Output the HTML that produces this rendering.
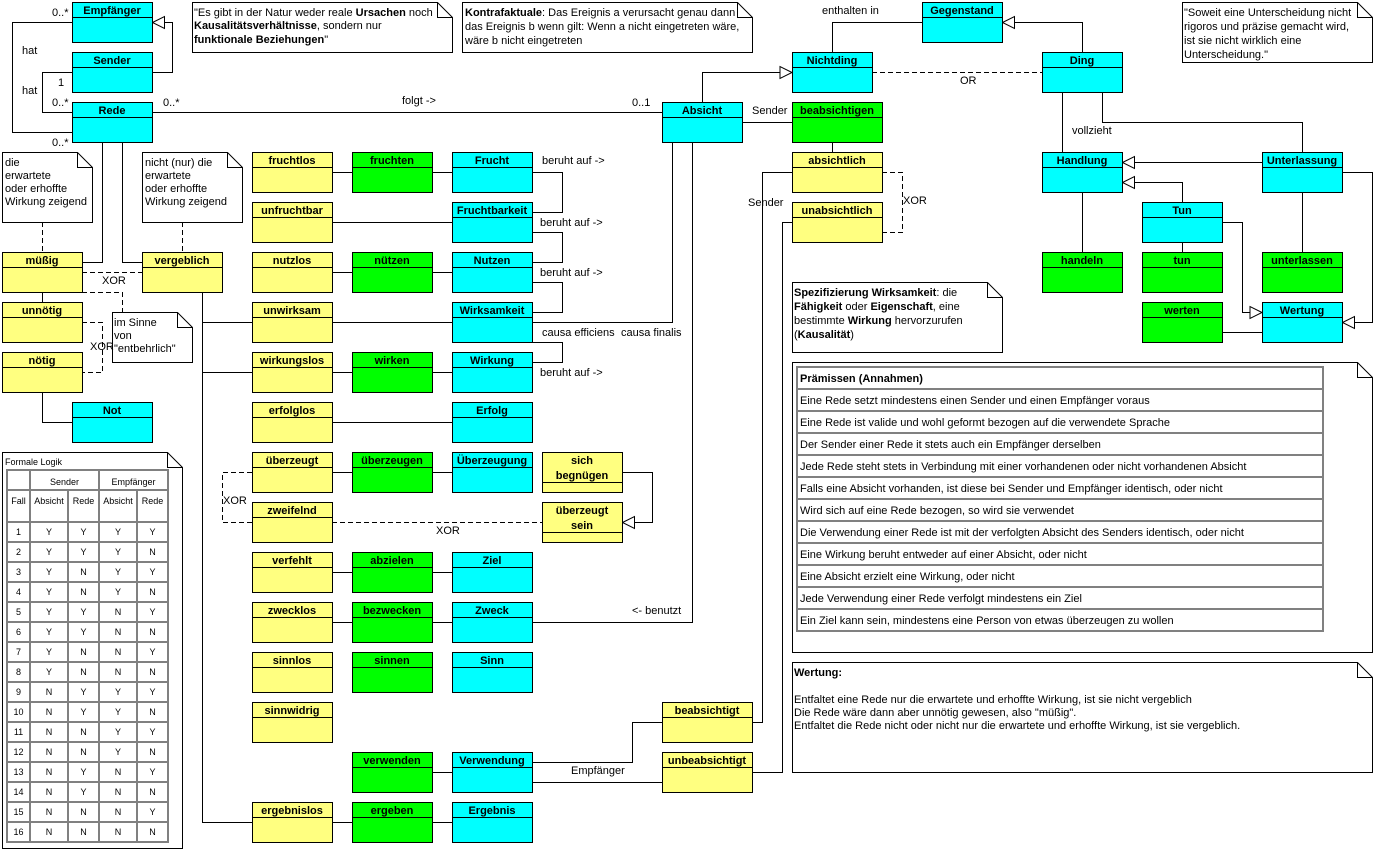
<!DOCTYPE html>
<html><head><meta charset="utf-8">
<style>
html,body{margin:0;padding:0;background:#fff;}
svg{display:block;}
text{font-family:"Liberation Sans",Arial,sans-serif;font-size:11px;fill:#000;}
.bx text{text-anchor:middle;font-weight:bold;}
.bx rect{stroke:#000;stroke-width:1;}
.bx path{stroke:#000;fill:none;}
.c{fill:#00FFFF}.g{fill:#00FF00}.y{fill:#FFFF80}
.ln{fill:none;stroke:#000;stroke-width:1;}
.ds{fill:none;stroke:#000;stroke-width:1;stroke-dasharray:5,3;}
.tri{fill:#fff;stroke:#000;stroke-width:1;}
.note{fill:#fff;stroke:#000;stroke-width:1;}
.gt{fill:none;stroke:#808080;stroke-width:2;}
.sm{font-size:9px;}
.mid{text-anchor:middle;}
.w10{font-size:11px;}
</style></head><body>
<svg width="1376" height="856" viewBox="0 0 1376 856" xmlns="http://www.w3.org/2000/svg">
<rect x="0" y="0" width="1376" height="856" fill="#fff"/>

<!-- Notes -->
<g>
<path class="note" d="M2.5 152.5H77.5L92.5 167.5V222.5H2.5Z"/><path class="ln" d="M77.5 152.5V167.5H92.5"/>
<text x="5" y="166">die</text><text x="5" y="179">erwartete</text><text x="5" y="192">oder erhoffte</text><text x="5" y="205">Wirkung zeigend</text>

<path class="note" d="M142.5 152.5H227.5L242.5 167.5V222.5H142.5Z"/><path class="ln" d="M227.5 152.5V167.5H242.5"/>
<text x="145" y="166">nicht (nur) die</text><text x="145" y="179">erwartete</text><text x="145" y="192">oder erhoffte</text><text x="145" y="205">Wirkung zeigend</text>

<path class="note" d="M112.5 312.5H177.5L192.5 327.5V362.5H112.5Z"/><path class="ln" d="M177.5 312.5V327.5H192.5"/>
<text x="114" y="326">im Sinne</text><text x="114" y="339">von</text><text x="114" y="352">"entbehrlich"</text>

<path class="note" d="M192.5 2.5H437.5L452.5 17.5V52.5H192.5Z"/><path class="ln" d="M437.5 2.5V17.5H452.5"/>
<text x="194" y="16">"Es gibt in der Natur weder reale <tspan font-weight="bold">Ursachen</tspan> noch</text>
<text x="194" y="29"><tspan font-weight="bold">Kausalitätsverhältnisse</tspan>, sondern nur</text>
<text x="194" y="43"><tspan font-weight="bold">funktionale Beziehungen</tspan>"</text>

<path class="note" d="M462.5 2.5H737.5L752.5 17.5V52.5H462.5Z"/><path class="ln" d="M737.5 2.5V17.5H752.5"/>
<text x="465" y="16"><tspan font-weight="bold">Kontrafaktuale</tspan>: Das Ereignis a verursacht genau dann</text>
<text x="465" y="30">das Ereignis b wenn gilt: Wenn a nicht eingetreten wäre,</text>
<text x="465" y="44">wäre b nicht eingetreten</text>

<path class="note" d="M1182.5 2.5H1357.5L1372.5 17.5V62.5H1182.5Z"/><path class="ln" d="M1357.5 2.5V17.5H1372.5"/>
<text x="1184" y="16">"Soweit eine Unterscheidung nicht</text>
<text x="1184" y="30">rigoros und präzise gemacht wird,</text>
<text x="1184" y="44">ist sie nicht wirklich eine</text>
<text x="1184" y="58">Unterscheidung."</text>

<path class="note" d="M792.5 282.5H987.5L1002.5 297.5V352.5H792.5Z"/><path class="ln" d="M987.5 282.5V297.5H1002.5"/>
<text x="794" y="296"><tspan font-weight="bold">Spezifizierung Wirksamkeit</tspan>: die</text>
<text x="794" y="310"><tspan font-weight="bold">Fähigkeit</tspan> oder <tspan font-weight="bold">Eigenschaft</tspan>, eine</text>
<text x="794" y="324">bestimmte <tspan font-weight="bold">Wirkung</tspan> hervorzurufen</text>
<text x="794" y="338">(<tspan font-weight="bold">Kausalität</tspan>)</text>

<path class="note" d="M792.5 362.5H1357.5L1372.5 377.5V652.5H792.5Z"/><path class="ln" d="M1357.5 362.5V377.5H1372.5"/>
<rect class="gt" x="797" y="367" width="526" height="264"/>
<path class="gt" d="M797 389H1323M797 411H1323M797 433H1323M797 455H1323M797 477H1323M797 499H1323M797 521H1323M797 543H1323M797 565H1323M797 587H1323M797 609H1323"/>
<text x="800" y="382" font-weight="bold">Prämissen (Annahmen)</text>
<text x="800" y="404">Eine Rede setzt mindestens einen Sender und einen Empfänger voraus</text>
<text x="800" y="426">Eine Rede ist valide und wohl geformt bezogen auf die verwendete Sprache</text>
<text x="800" y="448">Der Sender einer Rede it stets auch ein Empfänger derselben</text>
<text x="800" y="470">Jede Rede steht stets in Verbindung mit einer vorhandenen oder nicht vorhandenen Absicht</text>
<text x="800" y="492">Falls eine Absicht vorhanden, ist diese bei Sender und Empfänger identisch, oder nicht</text>
<text x="800" y="514">Wird sich auf eine Rede bezogen, so wird sie verwendet</text>
<text x="800" y="536">Die Verwendung einer Rede ist mit der verfolgten Absicht des Senders identisch, oder nicht</text>
<text x="800" y="558">Eine Wirkung beruht entweder auf einer Absicht, oder nicht</text>
<text x="800" y="580">Eine Absicht erzielt eine Wirkung, oder nicht</text>
<text x="800" y="602">Jede Verwendung einer Rede verfolgt mindestens ein Ziel</text>
<text x="800" y="624">Ein Ziel kann sein, mindestens eine Person von etwas überzeugen zu wollen</text>

<path class="note" d="M792.5 662.5H1357.5L1372.5 677.5V772.5H792.5Z"/><path class="ln" d="M1357.5 662.5V677.5H1372.5"/>
<text x="794" y="676" font-weight="bold">Wertung:</text>
<text class="w10" x="794" y="703">Entfaltet eine Rede nur die erwartete und erhoffte Wirkung, ist sie nicht vergeblich</text>
<text class="w10" x="794" y="716">Die Rede wäre dann aber unnötig gewesen, also "müßig".</text>
<text class="w10" x="794" y="729">Entfaltet die Rede nicht oder nicht nur die erwartete und erhoffte Wirkung, ist sie vergeblich.</text>

<path class="note" d="M2.5 452.5H167.5L182.5 467.5V848.5H2.5Z"/><path class="ln" d="M167.5 452.5V467.5H182.5"/>
<text class="sm" x="5" y="465">Formale Logik</text>
<rect class="gt" x="7" y="470" width="161" height="372"/>
<path class="gt" d="M7 490H168M7 522H168M7 542H168M7 562H168M7 582H168M7 602H168M7 622H168M7 642H168M7 662H168M7 682H168M7 702H168M7 722H168M7 742H168M7 762H168M7 782H168M7 802H168M7 822H168M30 470V842M99 470V842M68 490V842M137 490V842"/>
<g class="sm mid">
<text class="sm mid" x="64.5" y="485">Sender</text><text class="sm mid" x="133.5" y="485">Empfänger</text>
<text class="sm mid" x="18.5" y="504">Fall</text><text class="sm mid" x="49" y="504">Absicht</text><text class="sm mid" x="83.5" y="504">Rede</text><text class="sm mid" x="118" y="504">Absicht</text><text class="sm mid" x="152.5" y="504">Rede</text>
</g>
<g>
<text class="sm mid" x="18.5" y="535">1</text><text class="sm mid" x="49" y="535">Y</text><text class="sm mid" x="83.5" y="535">Y</text><text class="sm mid" x="118" y="535">Y</text><text class="sm mid" x="152.5" y="535">Y</text>
<text class="sm mid" x="18.5" y="555">2</text><text class="sm mid" x="49" y="555">Y</text><text class="sm mid" x="83.5" y="555">Y</text><text class="sm mid" x="118" y="555">Y</text><text class="sm mid" x="152.5" y="555">N</text>
<text class="sm mid" x="18.5" y="575">3</text><text class="sm mid" x="49" y="575">Y</text><text class="sm mid" x="83.5" y="575">N</text><text class="sm mid" x="118" y="575">Y</text><text class="sm mid" x="152.5" y="575">Y</text>
<text class="sm mid" x="18.5" y="595">4</text><text class="sm mid" x="49" y="595">Y</text><text class="sm mid" x="83.5" y="595">N</text><text class="sm mid" x="118" y="595">Y</text><text class="sm mid" x="152.5" y="595">N</text>
<text class="sm mid" x="18.5" y="615">5</text><text class="sm mid" x="49" y="615">Y</text><text class="sm mid" x="83.5" y="615">Y</text><text class="sm mid" x="118" y="615">N</text><text class="sm mid" x="152.5" y="615">Y</text>
<text class="sm mid" x="18.5" y="635">6</text><text class="sm mid" x="49" y="635">Y</text><text class="sm mid" x="83.5" y="635">Y</text><text class="sm mid" x="118" y="635">N</text><text class="sm mid" x="152.5" y="635">N</text>
<text class="sm mid" x="18.5" y="655">7</text><text class="sm mid" x="49" y="655">Y</text><text class="sm mid" x="83.5" y="655">N</text><text class="sm mid" x="118" y="655">N</text><text class="sm mid" x="152.5" y="655">Y</text>
<text class="sm mid" x="18.5" y="675">8</text><text class="sm mid" x="49" y="675">Y</text><text class="sm mid" x="83.5" y="675">N</text><text class="sm mid" x="118" y="675">N</text><text class="sm mid" x="152.5" y="675">N</text>
<text class="sm mid" x="18.5" y="695">9</text><text class="sm mid" x="49" y="695">N</text><text class="sm mid" x="83.5" y="695">Y</text><text class="sm mid" x="118" y="695">Y</text><text class="sm mid" x="152.5" y="695">Y</text>
<text class="sm mid" x="18.5" y="715">10</text><text class="sm mid" x="49" y="715">N</text><text class="sm mid" x="83.5" y="715">Y</text><text class="sm mid" x="118" y="715">Y</text><text class="sm mid" x="152.5" y="715">N</text>
<text class="sm mid" x="18.5" y="735">11</text><text class="sm mid" x="49" y="735">N</text><text class="sm mid" x="83.5" y="735">N</text><text class="sm mid" x="118" y="735">Y</text><text class="sm mid" x="152.5" y="735">Y</text>
<text class="sm mid" x="18.5" y="755">12</text><text class="sm mid" x="49" y="755">N</text><text class="sm mid" x="83.5" y="755">N</text><text class="sm mid" x="118" y="755">Y</text><text class="sm mid" x="152.5" y="755">N</text>
<text class="sm mid" x="18.5" y="775">13</text><text class="sm mid" x="49" y="775">N</text><text class="sm mid" x="83.5" y="775">Y</text><text class="sm mid" x="118" y="775">N</text><text class="sm mid" x="152.5" y="775">Y</text>
<text class="sm mid" x="18.5" y="795">14</text><text class="sm mid" x="49" y="795">N</text><text class="sm mid" x="83.5" y="795">Y</text><text class="sm mid" x="118" y="795">N</text><text class="sm mid" x="152.5" y="795">N</text>
<text class="sm mid" x="18.5" y="815">15</text><text class="sm mid" x="49" y="815">N</text><text class="sm mid" x="83.5" y="815">N</text><text class="sm mid" x="118" y="815">N</text><text class="sm mid" x="152.5" y="815">Y</text>
<text class="sm mid" x="18.5" y="835">16</text><text class="sm mid" x="49" y="835">N</text><text class="sm mid" x="83.5" y="835">N</text><text class="sm mid" x="118" y="835">N</text><text class="sm mid" x="152.5" y="835">N</text>
</g>
</g>

<!-- Solid connectors -->
<path class="ln" d="M72 22.5H12.5V132.5H72"/>
<path class="ln" d="M72 72.5H42.5V112.5H72"/>
<path class="ln" d="M152 72.5H172.5V22.5H164"/>
<path class="ln" d="M152 112.5H662"/>
<path class="ln" d="M102.5 142V262.5H82"/>
<path class="ln" d="M122.5 142V262.5H142"/>
<path class="ln" d="M42.5 292V302"/>
<path class="ln" d="M42.5 392V422.5H72"/>
<path class="ln" d="M202.5 292V822.5H252M202.5 322.5H252M202.5 372.5H252"/>
<path class="ln" d="M332 172.5H352M432 172.5H452M332 222.5H452M332 272.5H352M432 272.5H452M332 322.5H452M332 372.5H352M432 372.5H452M332 422.5H452M332 472.5H352M432 472.5H452M332 572.5H352M432 572.5H452M332 622.5H352M432 622.5H452M432 772.5H452M332 822.5H352M432 822.5H452"/>
<path class="ln" d="M532 172.5H562.5V212.5H532M532 232.5H562.5V262.5H532M532 282.5H562.5V312.5H532M532 342.5H562.5V362.5H532"/>
<path class="ln" d="M532 322.5H672.5V142"/>
<path class="ln" d="M692.5 142V622.5H532"/>
<path class="ln" d="M702.5 102V72.5H780"/>
<path class="ln" d="M742 122.5H792"/>
<path class="ln" d="M832.5 142V152"/>
<path class="ln" d="M792 172.5H762.5V722.5H752"/>
<path class="ln" d="M792 222.5H782.5V772.5H752"/>
<path class="ln" d="M532 762.5H632.5V722.5H662"/>
<path class="ln" d="M532 782.5H662"/>
<path class="ln" d="M832.5 52V22.5H922"/>
<path class="ln" d="M1082.5 52V22.5H1014"/>
<path class="ln" d="M1062.5 92V152"/>
<path class="ln" d="M1102.5 92V122.5H1302.5V152"/>
<path class="ln" d="M1262 162.5H1134"/>
<path class="ln" d="M1182.5 202V182.5H1134"/>
<path class="ln" d="M1082.5 192V252"/>
<path class="ln" d="M1182.5 242V252"/>
<path class="ln" d="M1302.5 192V252"/>
<path class="ln" d="M1222 222.5H1242.5V312.5H1250"/>
<path class="ln" d="M1342 172.5H1372.5V322.5H1354"/>
<path class="ln" d="M1222 332.5H1262"/>
<path class="ln" d="M622 472.5H652.5V522.5H634"/>

<!-- triangles -->
<path class="tri" d="M152.5 22.5L164.5 16.5L164.5 28.5Z"/>
<path class="tri" d="M792 72.5L780 66.5L780 78.5Z"/>
<path class="tri" d="M1002.5 22.5L1014.5 16.5L1014.5 28.5Z"/>
<path class="tri" d="M1122.5 162.5L1134.5 156.5L1134.5 168.5Z"/>
<path class="tri" d="M1122.5 182.5L1134.5 176.5L1134.5 188.5Z"/>
<path class="tri" d="M1262 312.5L1250 306.5L1250 318.5Z"/>
<path class="tri" d="M1342.5 322.5L1354.5 316.5L1354.5 328.5Z"/>
<path class="tri" d="M622.5 522.5L634.5 516.5L634.5 528.5Z"/>

<!-- dashed -->
<path class="ds" d="M42.5 222V252"/>
<path class="ds" d="M182.5 222V252"/>
<path class="ds" d="M82 272.5H142"/>
<path class="ds" d="M82 292.5H122.5V312"/>
<path class="ds" d="M82 322.5H102.5V372.5H82"/>
<path class="ds" d="M252 472.5H222.5V522.5H252"/>
<path class="ds" d="M332 522.5H542"/>
<path class="ds" d="M882 172.5H902.5V232.5H882"/>
<path class="ds" d="M872 72.5H1042"/>

<!-- labels -->
<text x="52" y="16">0..*</text>
<text x="22" y="54">hat</text>
<text x="58" y="86">1</text>
<text x="22" y="94">hat</text>
<text x="52" y="106">0..*</text>
<text x="52" y="146">0..*</text>
<text x="163" y="106">0..*</text>
<text x="402" y="104">folgt -&gt;</text>
<text x="632" y="106">0..1</text>
<text x="752" y="114">Sender</text>
<text x="822" y="14">enthalten in</text>
<text x="542" y="164">beruht auf -&gt;</text>
<text x="540" y="226">beruht auf -&gt;</text>
<text x="540" y="276">beruht auf -&gt;</text>
<text x="540" y="376">beruht auf -&gt;</text>
<text x="542" y="336">causa efficiens</text>
<text x="621" y="336">causa finalis</text>
<text x="748" y="206">Sender</text>
<text x="903" y="204">XOR</text>
<text x="960" y="84">OR</text>
<text x="1072" y="134">vollzieht</text>
<text x="102" y="284">XOR</text>
<text x="90" y="350">XOR</text>
<text x="223" y="504">XOR</text>
<text x="436" y="534">XOR</text>
<text x="632" y="614">&lt;- benutzt</text>
<text x="571" y="774">Empfänger</text>

<!-- class boxes -->
<g class="bx">
<g transform="translate(72,2)"><rect x=".5" y=".5" width="80" height="40" class="c"/><path d="M0 15.5H80"/><text x="40" y="12">Empfänger</text></g>
<g transform="translate(72,52)"><rect x=".5" y=".5" width="80" height="40" class="c"/><path d="M0 15.5H80"/><text x="40" y="12">Sender</text></g>
<g transform="translate(72,102)"><rect x=".5" y=".5" width="80" height="40" class="c"/><path d="M0 15.5H80"/><text x="40" y="12">Rede</text></g>
<g transform="translate(2,252)"><rect x=".5" y=".5" width="80" height="40" class="y"/><path d="M0 15.5H80"/><text x="40" y="12">müßig</text></g>
<g transform="translate(2,302)"><rect x=".5" y=".5" width="80" height="40" class="y"/><path d="M0 15.5H80"/><text x="40" y="12">unnötig</text></g>
<g transform="translate(2,352)"><rect x=".5" y=".5" width="80" height="40" class="y"/><path d="M0 15.5H80"/><text x="40" y="12">nötig</text></g>
<g transform="translate(72,402)"><rect x=".5" y=".5" width="80" height="40" class="c"/><path d="M0 15.5H80"/><text x="40" y="12">Not</text></g>
<g transform="translate(142,252)"><rect x=".5" y=".5" width="80" height="40" class="y"/><path d="M0 15.5H80"/><text x="40" y="12">vergeblich</text></g>

<g transform="translate(252,152)"><rect x=".5" y=".5" width="80" height="40" class="y"/><path d="M0 15.5H80"/><text x="40" y="12">fruchtlos</text></g>
<g transform="translate(352,152)"><rect x=".5" y=".5" width="80" height="40" class="g"/><path d="M0 15.5H80"/><text x="40" y="12">fruchten</text></g>
<g transform="translate(452,152)"><rect x=".5" y=".5" width="80" height="40" class="c"/><path d="M0 15.5H80"/><text x="40" y="12">Frucht</text></g>

<g transform="translate(252,202)"><rect x=".5" y=".5" width="80" height="40" class="y"/><path d="M0 15.5H80"/><text x="40" y="12">unfruchtbar</text></g>
<g transform="translate(452,202)"><rect x=".5" y=".5" width="80" height="40" class="c"/><path d="M0 15.5H80"/><text x="40" y="12">Fruchtbarkeit</text></g>

<g transform="translate(252,252)"><rect x=".5" y=".5" width="80" height="40" class="y"/><path d="M0 15.5H80"/><text x="40" y="12">nutzlos</text></g>
<g transform="translate(352,252)"><rect x=".5" y=".5" width="80" height="40" class="g"/><path d="M0 15.5H80"/><text x="40" y="12">nützen</text></g>
<g transform="translate(452,252)"><rect x=".5" y=".5" width="80" height="40" class="c"/><path d="M0 15.5H80"/><text x="40" y="12">Nutzen</text></g>

<g transform="translate(252,302)"><rect x=".5" y=".5" width="80" height="40" class="y"/><path d="M0 15.5H80"/><text x="40" y="12">unwirksam</text></g>
<g transform="translate(452,302)"><rect x=".5" y=".5" width="80" height="40" class="c"/><path d="M0 15.5H80"/><text x="40" y="12">Wirksamkeit</text></g>

<g transform="translate(252,352)"><rect x=".5" y=".5" width="80" height="40" class="y"/><path d="M0 15.5H80"/><text x="40" y="12">wirkungslos</text></g>
<g transform="translate(352,352)"><rect x=".5" y=".5" width="80" height="40" class="g"/><path d="M0 15.5H80"/><text x="40" y="12">wirken</text></g>
<g transform="translate(452,352)"><rect x=".5" y=".5" width="80" height="40" class="c"/><path d="M0 15.5H80"/><text x="40" y="12">Wirkung</text></g>

<g transform="translate(252,402)"><rect x=".5" y=".5" width="80" height="40" class="y"/><path d="M0 15.5H80"/><text x="40" y="12">erfolglos</text></g>
<g transform="translate(452,402)"><rect x=".5" y=".5" width="80" height="40" class="c"/><path d="M0 15.5H80"/><text x="40" y="12">Erfolg</text></g>

<g transform="translate(252,452)"><rect x=".5" y=".5" width="80" height="40" class="y"/><path d="M0 15.5H80"/><text x="40" y="12">überzeugt</text></g>
<g transform="translate(352,452)"><rect x=".5" y=".5" width="80" height="40" class="g"/><path d="M0 15.5H80"/><text x="40" y="12">überzeugen</text></g>
<g transform="translate(452,452)"><rect x=".5" y=".5" width="80" height="40" class="c"/><path d="M0 15.5H80"/><text x="40" y="12">Überzeugung</text></g>
<g transform="translate(542,452)"><rect x=".5" y=".5" width="80" height="40" class="y"/><path d="M0 30.5H80"/><text x="40" y="12">sich</text><text x="40" y="27">begnügen</text></g>

<g transform="translate(252,502)"><rect x=".5" y=".5" width="80" height="40" class="y"/><path d="M0 15.5H80"/><text x="40" y="12">zweifelnd</text></g>
<g transform="translate(542,502)"><rect x=".5" y=".5" width="80" height="40" class="y"/><path d="M0 30.5H80"/><text x="40" y="12">überzeugt</text><text x="40" y="27">sein</text></g>

<g transform="translate(252,552)"><rect x=".5" y=".5" width="80" height="40" class="y"/><path d="M0 15.5H80"/><text x="40" y="12">verfehlt</text></g>
<g transform="translate(352,552)"><rect x=".5" y=".5" width="80" height="40" class="g"/><path d="M0 15.5H80"/><text x="40" y="12">abzielen</text></g>
<g transform="translate(452,552)"><rect x=".5" y=".5" width="80" height="40" class="c"/><path d="M0 15.5H80"/><text x="40" y="12">Ziel</text></g>

<g transform="translate(252,602)"><rect x=".5" y=".5" width="80" height="40" class="y"/><path d="M0 15.5H80"/><text x="40" y="12">zwecklos</text></g>
<g transform="translate(352,602)"><rect x=".5" y=".5" width="80" height="40" class="g"/><path d="M0 15.5H80"/><text x="40" y="12">bezwecken</text></g>
<g transform="translate(452,602)"><rect x=".5" y=".5" width="80" height="40" class="c"/><path d="M0 15.5H80"/><text x="40" y="12">Zweck</text></g>

<g transform="translate(252,652)"><rect x=".5" y=".5" width="80" height="40" class="y"/><path d="M0 15.5H80"/><text x="40" y="12">sinnlos</text></g>
<g transform="translate(352,652)"><rect x=".5" y=".5" width="80" height="40" class="g"/><path d="M0 15.5H80"/><text x="40" y="12">sinnen</text></g>
<g transform="translate(452,652)"><rect x=".5" y=".5" width="80" height="40" class="c"/><path d="M0 15.5H80"/><text x="40" y="12">Sinn</text></g>

<g transform="translate(252,702)"><rect x=".5" y=".5" width="80" height="40" class="y"/><path d="M0 15.5H80"/><text x="40" y="12">sinnwidrig</text></g>

<g transform="translate(352,752)"><rect x=".5" y=".5" width="80" height="40" class="g"/><path d="M0 15.5H80"/><text x="40" y="12">verwenden</text></g>
<g transform="translate(452,752)"><rect x=".5" y=".5" width="80" height="40" class="c"/><path d="M0 15.5H80"/><text x="40" y="12">Verwendung</text></g>

<g transform="translate(252,802)"><rect x=".5" y=".5" width="80" height="40" class="y"/><path d="M0 15.5H80"/><text x="40" y="12">ergebnislos</text></g>
<g transform="translate(352,802)"><rect x=".5" y=".5" width="80" height="40" class="g"/><path d="M0 15.5H80"/><text x="40" y="12">ergeben</text></g>
<g transform="translate(452,802)"><rect x=".5" y=".5" width="80" height="40" class="c"/><path d="M0 15.5H80"/><text x="40" y="12">Ergebnis</text></g>

<g transform="translate(662,702)"><rect x=".5" y=".5" width="90" height="40" class="y"/><path d="M0 15.5H90"/><text x="45" y="12">beabsichtigt</text></g>
<g transform="translate(662,752)"><rect x=".5" y=".5" width="90" height="40" class="y"/><path d="M0 15.5H90"/><text x="45" y="12">unbeabsichtigt</text></g>

<g transform="translate(662,102)"><rect x=".5" y=".5" width="80" height="40" class="c"/><path d="M0 15.5H80"/><text x="40" y="12">Absicht</text></g>
<g transform="translate(792,52)"><rect x=".5" y=".5" width="80" height="40" class="c"/><path d="M0 15.5H80"/><text x="40" y="12">Nichtding</text></g>
<g transform="translate(792,102)"><rect x=".5" y=".5" width="90" height="40" class="g"/><path d="M0 15.5H90"/><text x="45" y="12">beabsichtigen</text></g>
<g transform="translate(792,152)"><rect x=".5" y=".5" width="90" height="40" class="y"/><path d="M0 15.5H90"/><text x="45" y="12">absichtlich</text></g>
<g transform="translate(792,202)"><rect x=".5" y=".5" width="90" height="40" class="y"/><path d="M0 15.5H90"/><text x="45" y="12">unabsichtlich</text></g>

<g transform="translate(922,2)"><rect x=".5" y=".5" width="80" height="40" class="c"/><path d="M0 15.5H80"/><text x="40" y="12">Gegenstand</text></g>
<g transform="translate(1042,52)"><rect x=".5" y=".5" width="80" height="40" class="c"/><path d="M0 15.5H80"/><text x="40" y="12">Ding</text></g>
<g transform="translate(1042,152)"><rect x=".5" y=".5" width="80" height="40" class="c"/><path d="M0 15.5H80"/><text x="40" y="12">Handlung</text></g>
<g transform="translate(1262,152)"><rect x=".5" y=".5" width="80" height="40" class="c"/><path d="M0 15.5H80"/><text x="40" y="12">Unterlassung</text></g>
<g transform="translate(1142,202)"><rect x=".5" y=".5" width="80" height="40" class="c"/><path d="M0 15.5H80"/><text x="40" y="12">Tun</text></g>
<g transform="translate(1042,252)"><rect x=".5" y=".5" width="80" height="40" class="g"/><path d="M0 15.5H80"/><text x="40" y="12">handeln</text></g>
<g transform="translate(1142,252)"><rect x=".5" y=".5" width="80" height="40" class="g"/><path d="M0 15.5H80"/><text x="40" y="12">tun</text></g>
<g transform="translate(1262,252)"><rect x=".5" y=".5" width="80" height="40" class="g"/><path d="M0 15.5H80"/><text x="40" y="12">unterlassen</text></g>
<g transform="translate(1142,302)"><rect x=".5" y=".5" width="80" height="40" class="g"/><path d="M0 15.5H80"/><text x="40" y="12">werten</text></g>
<g transform="translate(1262,302)"><rect x=".5" y=".5" width="80" height="40" class="c"/><path d="M0 15.5H80"/><text x="40" y="12">Wertung</text></g>
</g>
</svg>
</body></html>
